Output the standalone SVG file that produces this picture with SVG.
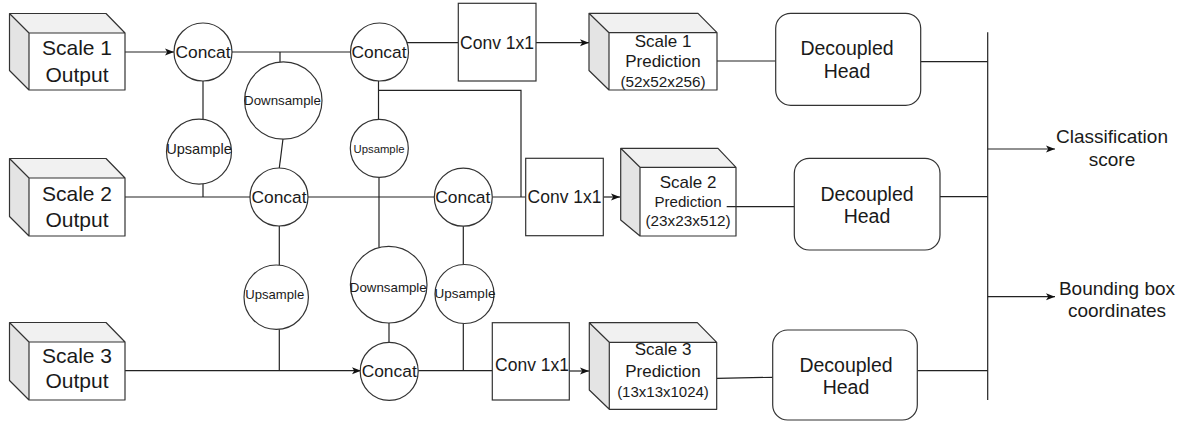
<svg xmlns="http://www.w3.org/2000/svg" width="1183" height="421" viewBox="0 0 1183 421">
<defs>
<marker id="arr" markerUnits="userSpaceOnUse" markerWidth="10" markerHeight="8" refX="9" refY="4" orient="auto">
<path d="M0,0.5 L9,4 L0,7.5 L2.2,4 Z" fill="#111"/>
</marker>
<style>
text{font-family:"Liberation Sans",Arial,sans-serif;fill:#1a1a1a;text-anchor:middle}
.sh{fill:#fff;stroke:#333;stroke-width:1.2}
.side{fill:#e4e4e4;stroke:none}
.top{fill:#f1f1f1;stroke:none}
.edge{fill:none;stroke:#333;stroke-width:1.2;stroke-linejoin:round}
.ln{fill:none;stroke:#222;stroke-width:1.2}
.arr{marker-end:url(#arr)}
.big{font-size:21px}
.cc{font-size:17.4px}
.cv{font-size:17.5px}
.pr{font-size:17px}
.ps{font-size:15.3px}
.hd{font-size:19.5px}
.out{font-size:19px}
</style>
</defs>
<rect width="1183" height="421" fill="#fff"/>

<g id="connectors">
<line class="ln arr" x1="125" y1="52" x2="174" y2="52"/>
<line class="ln" x1="232" y1="52" x2="350.5" y2="52"/>
<line class="ln" x1="280" y1="52" x2="280" y2="62"/>
<line class="ln" x1="283" y1="139" x2="279.3" y2="168"/>
<line class="ln" x1="203" y1="81" x2="203" y2="119.3"/>
<line class="ln" x1="203" y1="184" x2="203" y2="197"/>
<line class="ln" x1="125" y1="197" x2="250" y2="197"/>
<line class="ln" x1="308" y1="197" x2="434.3" y2="197"/>
<line class="ln" x1="492.5" y1="197" x2="525.7" y2="197"/>
<line class="ln arr" x1="603.3" y1="197" x2="620" y2="197"/>
<line class="ln" x1="407" y1="42.7" x2="458.3" y2="42.7"/>
<line class="ln arr" x1="536" y1="42.7" x2="589" y2="42.7"/>
<line class="ln" x1="378.5" y1="81" x2="378.5" y2="119.5"/>
<polyline class="ln" points="378.5,90.3 521,90.3 521,197"/>
<line class="ln" x1="379" y1="177.3" x2="379" y2="247.4"/>
<line class="ln" x1="389" y1="323" x2="389" y2="342.5"/>
<line class="ln" x1="279.3" y1="226" x2="279.3" y2="265.2"/>
<line class="ln" x1="279.3" y1="329.3" x2="279.3" y2="370.7"/>
<line class="ln arr" x1="125" y1="370.7" x2="361" y2="370.7"/>
<line class="ln" x1="418.2" y1="370.7" x2="492.3" y2="370.7"/>
<line class="ln" x1="463.3" y1="226" x2="463.3" y2="264.5"/>
<line class="ln" x1="463.3" y1="323.5" x2="463.3" y2="370.7"/>
<line class="ln arr" x1="569.3" y1="371" x2="589" y2="371"/>
<line class="ln" x1="717" y1="61" x2="775.7" y2="61"/>
<line class="ln" x1="726.7" y1="206.7" x2="794.3" y2="206.7"/>
<line class="ln" x1="717" y1="378.3" x2="772.7" y2="377.3"/>
<line class="ln" x1="920.7" y1="61.7" x2="987.7" y2="61.7"/>
<line class="ln" x1="940" y1="196.7" x2="987.7" y2="196.7"/>
<line class="ln" x1="917.3" y1="370.7" x2="987.7" y2="370.7"/>
<line class="ln" x1="987.7" y1="32.3" x2="987.7" y2="400" stroke="#111"/>
<line class="ln arr" x1="987.7" y1="149" x2="1055" y2="149"/>
<line class="ln arr" x1="987.7" y1="296.7" x2="1055" y2="296.7"/>
</g>

<g id="scale1-output">
<polygon class="side" points="9.5,13.5 29,33 29,90 9.5,70.5"/>
<polygon class="top" points="9.5,13.5 106,13.5 125,33 29,33"/>
<path class="edge" d="M9.5,13.5 L106,13.5 L125,33 L125,90 L29,90 L9.5,70.5 Z M9.5,13.5 L29,33 L125,33 M29,33 L29,90"/>
<text class="big" x="77" y="55">Scale 1</text>
<text class="big" x="77" y="81.5">Output</text>
</g>
<g id="scale2-output">
<polygon class="side" points="9.5,158.5 29,178 29,236 9.5,216.5"/>
<polygon class="top" points="9.5,158.5 106,158.5 125,178 29,178"/>
<path class="edge" d="M9.5,158.5 L106,158.5 L125,178 L125,236 L29,236 L9.5,216.5 Z M9.5,158.5 L29,178 L125,178 M29,178 L29,236"/>
<text class="big" x="77" y="200.7">Scale 2</text>
<text class="big" x="77" y="226.7">Output</text>
</g>
<g id="scale3-output">
<polygon class="side" points="9.5,322.5 29,342 29,400 9.5,380.5"/>
<polygon class="top" points="9.5,322.5 106,322.5 125,342 29,342"/>
<path class="edge" d="M9.5,322.5 L106,322.5 L125,342 L125,400 L29,400 L9.5,380.5 Z M9.5,322.5 L29,342 L125,342 M29,342 L29,400"/>
<text class="big" x="77" y="363">Scale 3</text>
<text class="big" x="77" y="388">Output</text>
</g>

<g id="concat1"><circle class="sh" cx="203" cy="52" r="29"/><text class="cc" x="203" y="58">Concat</text></g>
<g id="upsample1"><circle class="sh" cx="199" cy="151.7" r="32.5"/><text style="font-size:14.6px" x="199" y="154">Upsample</text></g>
<g id="downsample1"><circle class="sh" cx="283.3" cy="100.5" r="38.7"/><text style="font-size:13.3px" x="282.5" y="105">Downsample</text></g>
<g id="concat3"><circle class="sh" cx="379.5" cy="52" r="29"/><text class="cc" x="379" y="58">Concat</text></g>
<g id="upsample2"><circle class="sh" cx="379.3" cy="148.3" r="29"/><text style="font-size:11.3px" x="379" y="152.5">Upsample</text></g>
<g id="concat2"><circle class="sh" cx="279" cy="197" r="29"/><text class="cc" x="279" y="203">Concat</text></g>
<g id="concat4"><circle class="sh" cx="463.3" cy="197.2" r="29"/><text class="cc" x="462.8" y="203">Concat</text></g>
<g id="upsample4"><circle class="sh" cx="276.2" cy="297.2" r="32.2"/><text style="font-size:13.1px" x="274.7" y="299">Upsample</text></g>
<g id="downsample2"><circle class="sh" cx="388.7" cy="284.7" r="38.3"/><text style="font-size:13.3px" x="388.3" y="291.5">Downsample</text></g>
<g id="upsample3"><circle class="sh" cx="464.5" cy="294" r="29.5"/><text style="font-size:13.5px" x="465" y="298.3">Upsample</text></g>
<g id="concat5"><circle class="sh" cx="389.2" cy="371.3" r="29"/><text class="cc" x="389.2" y="376.6">Concat</text></g>

<g id="conv1"><rect class="sh" x="458.3" y="3.3" width="77.7" height="77.7"/><text class="cv" x="497" y="48.5">Conv 1x1</text></g>
<g id="conv2"><rect class="sh" x="525.7" y="158.3" width="77.6" height="77.4"/><text class="cv" x="564.5" y="203.3">Conv 1x1</text></g>
<g id="conv3"><rect class="sh" x="492.3" y="322.7" width="77" height="77.3"/><text class="cv" x="532" y="370.7">Conv 1x1</text></g>

<g id="scale1-prediction">
<polygon class="side" points="589,13.3 609,32.7 609,90 589,70.5"/>
<polygon class="top" points="589,13.3 698,13.3 717,32.7 609,32.7"/>
<path class="edge" d="M589,13.3 L698,13.3 L717,32.7 L717,90 L609,90 L589,70.5 Z M589,13.3 L609,32.7 L717,32.7 M609,32.7 L609,90"/>
<text class="pr" x="663" y="46.7">Scale 1</text>
<text class="pr" x="663" y="66.7">Prediction</text>
<text class="ps" x="663" y="87.3">(52x52x256)</text>
</g>
<g id="scale2-prediction">
<polygon class="side" points="620.7,148.3 640,167.3 640,236 620.7,220"/>
<polygon class="top" points="620.7,148.3 718,148.3 736,167.3 640,167.3"/>
<path class="edge" d="M620.7,148.3 L718,148.3 L736,167.3 L736,236 L640,236 L620.7,220 Z M620.7,148.3 L640,167.3 L736,167.3 M640,167.3 L640,236"/>
<text class="pr" x="688" y="187.7">Scale 2</text>
<text style="font-size:15.1px" x="688" y="206.7">Prediction</text>
<text class="ps" x="688" y="226">(23x23x512)</text>
</g>
<g id="scale3-prediction">
<polygon class="side" points="589.3,322.7 609.3,342.3 609.3,409.3 589.3,390"/>
<polygon class="top" points="589.3,322.7 697.3,322.7 716.7,342.3 609.3,342.3"/>
<path class="edge" d="M589.3,322.7 L697.3,322.7 L716.7,342.3 L716.7,409.3 L609.3,409.3 L589.3,390 Z M589.3,322.7 L609.3,342.3 L716.7,342.3 M609.3,342.3 L609.3,409.3"/>
<text class="pr" x="663" y="355">Scale 3</text>
<text class="pr" x="663" y="376.7">Prediction</text>
<text style="font-size:15px" x="663" y="396.7">(13x13x1024)</text>
</g>

<g id="head1"><rect class="sh" x="775.7" y="13.3" width="145" height="92" rx="15"/><text class="hd" x="847" y="55">Decoupled</text><text class="hd" x="847" y="78.3">Head</text></g>
<g id="head2"><rect class="sh" x="794.3" y="158.3" width="145.7" height="91.7" rx="15"/><text class="hd" x="867" y="201">Decoupled</text><text class="hd" x="867" y="223.3">Head</text></g>
<g id="head3"><rect class="sh" x="772.7" y="330" width="144.6" height="90" rx="15"/><text class="hd" x="846" y="372.3">Decoupled</text><text class="hd" x="846" y="394.3">Head</text></g>

<g id="classification"><text class="out" x="1112" y="143.3">Classification</text><text class="out" x="1112" y="165.7">score</text></g>
<g id="bbox"><text class="out" x="1117" y="295">Bounding box</text><text class="out" x="1117" y="317.3">coordinates</text></g>
</svg>
